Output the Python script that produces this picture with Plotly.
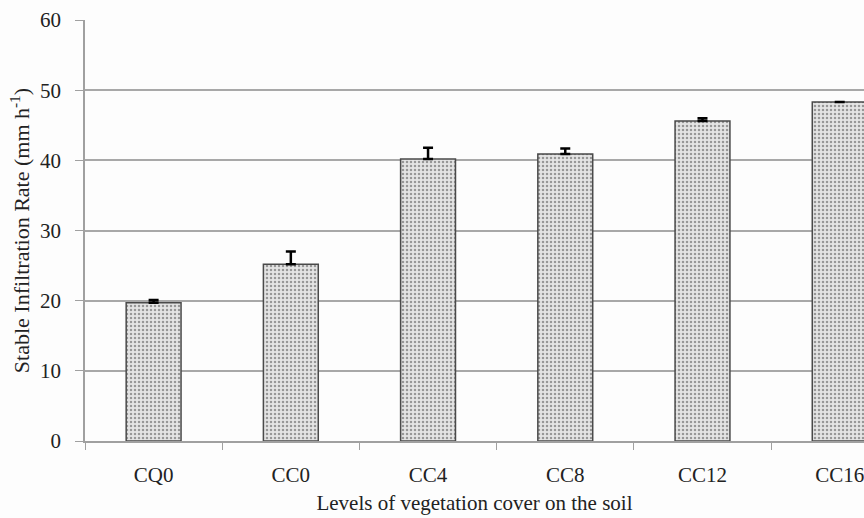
import plotly.graph_objects as go

categories = ["CQ0", "CC0", "CC4", "CC8", "CC12", "CC16"]
values = [19.7, 25.2, 40.2, 40.9, 45.6, 48.3]
errors = [0.4, 1.8, 1.6, 0.8, 0.4, 0.0]
y_ticks = [0, 10, 20, 30, 40, 50, 60]

font = "Liberation Serif, Times New Roman, serif"

fig = go.Figure(go.Bar(
    x=categories, y=values, width=0.4,
    marker=dict(
        color="#e6e6e6",
        line=dict(color="#4a4a4a", width=1.5),
        pattern=dict(shape=".", fgcolor="#4a4a4a", bgcolor="#e4e4e4", size=4, solidity=0.3),
    ),
    error_y=dict(type="data", array=errors, arrayminus=[0]*len(errors), symmetric=False,
                 color="black", thickness=2.5, width=5),
))

fig.update_layout(
    width=864, height=518,
    margin=dict(l=85, r=0, t=20, b=77),
    paper_bgcolor="#fdfdfd", plot_bgcolor="#fdfdfd",
    font=dict(family=font, size=21, color="#222"),
    showlegend=False,
)
fig.update_xaxes(
    range=[-0.5, 5.177], automargin=False, showline=True, linecolor="#a0a0a0", linewidth=2,
    ticks="outside", tickson="boundaries", ticklen=7, tickcolor="#a0a0a0", tickwidth=1,
    ticklabelstandoff=14, showgrid=False, tickfont=dict(size=21),
    title=dict(text="Levels of vegetation cover on the soil", font=dict(size=21), standoff=9),
)
fig.update_yaxes(
    range=[0, 60], tickvals=y_ticks, automargin=False, showline=True, linecolor="#a0a0a0", linewidth=1.5,
    ticks="outside", ticklen=8, tickcolor="#a0a0a0", ticklabelstandoff=10, tickfont=dict(size=21),
    showgrid=True, gridcolor="#a8a8a8", gridwidth=1.5, zeroline=False,
    title=dict(text="Stable Infiltration Rate (mm h<sup>-1</sup>)", font=dict(size=22), standoff=4),
)

fig.write_html("out.html", config={"displayModeBar": False},
               post_script="document.body.style.margin='0';window.dispatchEvent(new Event('resize'));")
